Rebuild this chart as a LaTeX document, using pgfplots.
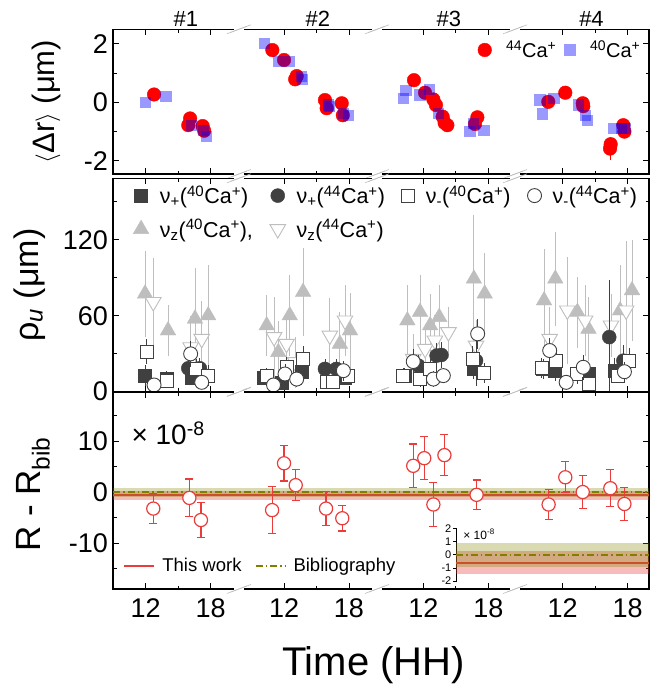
\documentclass[border=0pt]{standalone}
\usepackage{fontspec}
\setmainfont{Liberation Sans}
\usepackage{pgfplots}
\pgfplotsset{compat=1.18}

\definecolor{olv}{RGB}{128,128,0}
\definecolor{rln}{RGB}{235,60,60}
\definecolor{dk}{RGB}{64,64,64}
\definecolor{lg}{RGB}{190,190,190}

\newcommand{\fs}[1]{\fontsize{#1}{#1}\selectfont}

% axis breaks (//) drawn on top and bottom edge of every panel
\newcommand{\brk}{%
  \pgfplotsinvokeforeach{0.2348,0.4924,0.7501}{%
    \fill[white] ([xshift=-5pt,yshift=-1.6pt]rel axis cs:##1,0) rectangle ([xshift=5pt,yshift=1.6pt]rel axis cs:##1,0);
    \fill[white] ([xshift=-5pt,yshift=-1.6pt]rel axis cs:##1,1) rectangle ([xshift=5pt,yshift=1.6pt]rel axis cs:##1,1);
    \draw[lg, line width=0.6pt] ([xshift=-12pt,yshift=-4.5pt]rel axis cs:##1,0) -- ([xshift=8pt,yshift=3pt]rel axis cs:##1,0);
    \draw[lg, line width=0.6pt] ([xshift=-8pt,yshift=-3pt]rel axis cs:##1,0) -- ([xshift=12pt,yshift=4.5pt]rel axis cs:##1,0);
    \draw[lg, line width=0.6pt] ([xshift=-12pt,yshift=-4.5pt]rel axis cs:##1,1) -- ([xshift=8pt,yshift=3pt]rel axis cs:##1,1);
    \draw[lg, line width=0.6pt] ([xshift=-8pt,yshift=-3pt]rel axis cs:##1,1) -- ([xshift=12pt,yshift=4.5pt]rel axis cs:##1,1);
  }}

\pgfplotsset{
  panel/.style={
    scale only axis, width=536pt, anchor=north west,
    xmin=8.98, xmax=58.47,
    xtick={12,18,24.77,30.77,37.63,43.63,50.5,56.5},
    minor xtick={15,27.77,40.63,53.5},
    xticklabels={},
    tick align=inside,
    major tick length=6pt, minor tick length=3.5pt,
    axis line style={line width=1.1pt},
    every tick/.style={black, line width=1pt},
    tick label style={font=\fs{27}},
    /pgf/number format/assume math mode=true,
    yticklabel style={inner sep=0pt, xshift=-5pt},
    clip mode=individual,
  },
}

\begin{document}
\begin{tikzpicture}
\useasboundingbox (0,0) rectangle (659pt,-685pt);

% ---------------- top panel ----------------
\begin{axis}[panel, at={(113pt,-29.3pt)}, height=144.7pt,
  ymin=-2.45, ymax=2.5, ytick={-2,0,2}, minor ytick={-1,1},
  ylabel={$\langle$Δr$\rangle$ (μm)},
  ylabel style={font=\fs{31}, at={(axis description cs:-0.125,0.5)}, anchor=center},
  legend style={at={(0.988,0.857)}, anchor=east, draw=none, fill=none,
    font=\fs{20}, inner sep=0pt},
  legend columns=2,
  legend cell align=left,
  /tikz/every odd column/.append style={column sep=12.5pt},
  /tikz/every even column/.append style={column sep=6pt},
]
\addplot[red, only marks, mark=*, mark size=6.8pt, mark options={draw=red, fill=red}] coordinates {
  (12.77,0.27) (15.93,-0.78) (16.1,-0.55) (17.26,-0.81) (17.4,-0.97)
  (23.69,1.79) (24.77,1.45) (25.8,0.79) (25.94,0.9) (28.55,0.08) (28.71,-0.2) (30.1,-0.03) (30.2,-0.44)
  (36.77,0.76) (37.79,0.33) (38.56,0.1) (38.8,-0.09) (39.42,-0.49) (39.6,-0.7) (39.85,-0.78) (42.4,-0.74) (42.62,-0.51)
  (49.17,0.02) (50.74,0.33) (52.35,-0.03) (52.4,-0.13) (54.93,-1.43) (56.1,-0.78) (56.2,-1.0)
};
\addplot[red, only marks, mark=*, mark size=6.8pt, mark options={draw=red, fill=red}, forget plot,
  error bars/.cd, y dir=both, y explicit, error bar style={red, line width=1pt}, error mark=none] coordinates {
  (54.87,-1.58) +- (0,0.38)
};
\addplot[blue, only marks, mark=square*, mark size=5.6pt, mark options={draw opacity=0, fill=blue, fill opacity=0.4}] coordinates {
  (12.0,0.0) (13.87,0.19) (16.25,-0.78) (17.3,-0.97) (17.6,-1.18)
  (23.0,2.02) (24.24,1.39) (25.3,1.39) (26.4,0.88) (26.5,0.77) (28.86,-0.09) (29.0,-0.13) (30.25,-0.38) (30.7,-0.44)
  (35.79,0.14) (36.03,0.42) (37.33,0.25) (38.19,0.45) (39.02,-0.38) (41.95,-1.0) (42.25,-0.72) (43.24,-0.97)
  (48.4,0.08) (48.66,-0.4) (49.7,0.14) (51.94,-0.09) (52.6,-0.44) (52.78,-0.61) (55.24,-0.89) (55.9,-0.89) (56.25,-0.89)
};
\legend{\textsuperscript{44}Ca\textsuperscript{+}, \textsuperscript{40}Ca\textsuperscript{+}}
\node[font=\fs{22}, anchor=base] at ([yshift=2.6pt]axis cs:15.7,2.5) {\#1};
\node[font=\fs{22}, anchor=base] at ([yshift=2.6pt]axis cs:27.9,2.5) {\#2};
\node[font=\fs{22}, anchor=base] at ([yshift=2.6pt]axis cs:40.0,2.5) {\#3};
\node[font=\fs{22}, anchor=base] at ([yshift=2.6pt]axis cs:53.16,2.5) {\#4};
\brk
\end{axis}

% ---------------- middle panel ----------------
\begin{axis}[panel, at={(113pt,-178.3pt)}, height=213.4pt,
  ymin=0, ymax=168.5, ytick={0,60,120}, minor ytick={30,90,150},
  ylabel={ρ\textsubscript{\textit{u}} (μm)},
  ylabel style={font=\fs{34}, at={(axis description cs:-0.155,0.5)}, anchor=center},
  legend style={at={(0.0375,0.975)}, anchor=north west, draw=none, fill=none,
    font=\fs{21.5}, inner sep=0pt, row sep=10pt},
  legend columns=4,
  legend cell align=left,
  /tikz/every odd column/.append style={column sep=9pt},
  /tikz/every even column/.append style={column sep=15pt},
]
\addlegendimage{only marks, mark=square*, mark size=6.5pt, dk, mark options={fill=dk}}
\addlegendimage{only marks, mark=*, mark size=7pt, dk, mark options={fill=dk}}
\addlegendimage{only marks, mark=square*, mark size=6.5pt, dk, mark options={draw=dk, fill=white, line width=0.9pt}}
\addlegendimage{only marks, mark=*, mark size=7pt, dk, mark options={draw=dk, fill=white, line width=0.9pt}}
\addlegendimage{only marks, mark=triangle*, mark size=9pt, lg, mark options={draw=lg, fill=lg}}
\addlegendimage{only marks, mark=triangle*, mark size=9pt, lg, mark options={draw=lg, fill=white, rotate=180, line width=0.9pt}}

% nu_z(40Ca+)
\addplot[forget plot, lg, only marks, mark=triangle*, mark size=9pt, mark options={draw=lg, fill=lg},
  error bars/.cd, y dir=both, y explicit, error bar style={lg, line width=0.9pt}, error mark=none] coordinates {
  (11.94,77.4) +- (0,34) (14.06,48.3) +- (0,20) (16.55,57.6) +- (0,40) (17.77,60.2) +- (0,40)
  (23.17,52.3) +- (0,24) (24.24,31.2) +- (0,25) (25.3,60.2) +- (0,32) (26.53,78.7) +- (0,35) (29.93,37.8) +- (0,25) (30.86,48.3) +- (0,30)
  (36.16,56.2) +- (0,28) (37.33,62.9) +- (0,29) (38.26,52.3) +- (0,25) (39.1,58.9) +- (0,25) (42.3,89.2) +- (0,50) (43.3,77.4) +- (0,32)
  (48.78,72) +- (0,41) (49.82,89.2) +- (0,37) (51.86,62.9) +- (0,28) (52.88,49.6) +- (0,25) (55.8,64.1) +- (0,36) (56.9,80) +- (0,40)
};
% nu_z(44Ca+)
\addplot[forget plot, lg, only marks, mark=triangle*, mark size=9pt, mark options={draw=lg, fill=white, rotate=180, line width=0.9pt},
  error bars/.cd, y dir=both, y explicit, error bar style={lg, line width=0.9pt}, error mark=none] coordinates {
  (12.7,70.8) +- (0,35) (16.15,35.1) +- (0,25) (17.17,41.7) +- (0,30)
  (23.85,43.1) +- (0,32) (25.0,37.8) +- (0,20) (25.8,23.3) +- (0,20) (29.0,44.3) +- (0,30) (30.4,56.2) +- (0,28)
  (36.7,25.9) +- (0,20) (37.8,33.8) +- (0,20) (38.7,40.4) +- (0,20) (39.95,47) +- (0,20) (42.5,36.4) +- (0,20)
  (49.3,41.7) +- (0,25) (50.93,64.1) +- (0,42) (52.57,56.2) +- (0,28) (54.96,52.3) +- (0,25) (56.36,64.1) +- (0,55)
};
% nu_+(40Ca+)
\addplot[forget plot, only marks, mark=square*, mark size=6.5pt, dk, mark options={fill=dk},
  error bars/.cd, y dir=both, y explicit, error bar style={dk, line width=0.9pt}, error mark=none] coordinates {
  (11.94,12.7) +- (0,8) (13.94,10.6) +- (0,6) (16.25,11.4) +- (0,6)
  (22.86,11.4) +- (0,6) (24.56,7.4) +- (0,5) (26.4,15.4) +- (0,10) (30.4,11.4) +- (0,6)
  (35.93,12.7) +- (0,6) (37.95,12.7) +- (0,8) (42.25,18) +- (0,8)
  (48.7,18) +- (0,8) (49.8,16.6) +- (0,8) (52.88,14) +- (0,8) (55.3,16.6) +- (0,10)
};
% nu_+(44Ca+)
\addplot[forget plot, only marks, mark=*, mark size=7pt, dk, mark options={fill=dk},
  error bars/.cd, y dir=both, y explicit, error bar style={dk, line width=0.9pt}, error mark=none] coordinates {
  (15.93,18.5) +- (0,8) (17.0,18.5) +- (0,8)
  (28.55,18) +- (0,8) (29.6,18) +- (0,8)
  (37.17,20.6) +- (0,8) (38.86,28.5) +- (0,10) (39.3,29) +- (0,10) (42.5,24.5) +- (0,20)
  (54.8,43.1) +- (0,45) (56.1,24.5) +- (0,12)
};
% nu_-(40Ca+)
\addplot[forget plot, only marks, mark=square*, mark size=6.5pt, dk, mark options={draw=dk, fill=white, line width=0.9pt},
  error bars/.cd, y dir=both, y explicit, error bar style={dk, line width=0.9pt}, error mark=none] coordinates {
  (12.09,31.7) +- (0,10) (13.94,8.7) +- (0,6) (16.64,18) +- (0,8) (17.77,12.7) +- (0,8)
  (23.17,12.7) +- (0,6) (25.0,19.3) +- (0,8) (26.53,25.9) +- (0,10) (28.71,7.4) +- (0,5) (29.32,7.4) +- (0,5) (30.7,12.7) +- (0,6)
  (35.79,12.7) +- (0,6) (37.33,10) +- (0,6) (38.25,18) +- (0,8) (42.2,25.9) +- (0,10) (43.24,14.8) +- (0,8)
  (48.56,18.8) +- (0,8) (49.9,24.5) +- (0,10) (51.86,14) +- (0,8) (52.88,6.1) +- (0,5) (55.64,12.7) +- (0,6) (56.66,24.5) +- (0,10)
};
% nu_-(44Ca+)
\addplot[forget plot, only marks, mark=*, mark size=7pt, dk, mark options={draw=dk, fill=white, line width=0.9pt},
  error bars/.cd, y dir=both, y explicit, error bar style={dk, line width=0.9pt}, error mark=none] coordinates {
  (12.77,5.3) +- (0,5) (16.15,29.9) +- (0,10) (17.17,7.4) +- (0,5)
  (23.8,5.3) +- (0,5) (24.86,14) +- (0,8) (25.94,10) +- (0,6) (30.25,16.6) +- (0,8)
  (36.7,23.8) +- (0,10) (38.56,10) +- (0,6) (39.48,12.7) +- (0,6) (42.65,45.7) +- (0,12)
  (49.3,32.5) +- (0,10) (50.82,7.4) +- (0,6) (52.4,19.3) +- (0,10) (56.2,15.8) +- (0,8)
};
\legend{ν\textsubscript{+}(\textsuperscript{40}Ca\textsuperscript{+}),
        ν\textsubscript{+}(\textsuperscript{44}Ca\textsuperscript{+}),
        ν\textsubscript{-}(\textsuperscript{40}Ca\textsuperscript{+}),
        ν\textsubscript{-}(\textsuperscript{44}Ca\textsuperscript{+}),
        ν\textsubscript{z}(\textsuperscript{40}Ca\textsuperscript{+}){,},
        ν\textsubscript{z}(\textsuperscript{44}Ca\textsuperscript{+})}
\brk
\end{axis}

% ---------------- bottom panel ----------------
\begin{axis}[panel, at={(113pt,-392pt)}, height=197pt,
  ymin=-19, ymax=19.7, ytick={-10,0,10}, minor ytick={-15,-5,5,15},
  xticklabels={12,18,12,18,12,18,12,18},
  xticklabel style={inner sep=0pt, yshift=-9pt},
  xlabel={Time (HH)},
  xlabel style={font=\fs{40}, at={(axis description cs:0.486,0)}, anchor=base, yshift=-86pt},
  ylabel={R - R\textsubscript{bib}},
  ylabel style={font=\fs{35}, at={(axis description cs:-0.149,0.48)}, anchor=center},
  legend style={at={(0.019,0.118)}, anchor=west, draw=none, fill=none,
    font=\fs{18.5}, inner sep=0pt},
  legend columns=2,
  /tikz/every odd column/.append style={column sep=5pt},
  /tikz/every even column/.append style={column sep=11pt},
  legend image code/.code={\draw[#1] (0pt,0pt) -- (30pt,0pt);},
]
\addplot[forget plot, draw=none, fill=rln, fill opacity=0.35] coordinates {(8.98,-1.5) (58.47,-1.5) (58.47,0.26) (8.98,0.26)} -- cycle;
\addplot[rln, line width=2pt] coordinates {(8.98,-0.62) (58.47,-0.62)};
\addplot[forget plot, draw=none, fill=olv, fill opacity=0.3] coordinates {(8.98,-0.9) (58.47,-0.9) (58.47,0.9) (8.98,0.9)} -- cycle;
\addplot[olv, line width=2pt, dash pattern=on 7pt off 3pt on 1.5pt off 3pt] coordinates {(8.98,0) (58.47,0)};
\addplot[forget plot, only marks, mark=*, mark size=6.6pt, rln, mark options={fill=white, line width=1.2pt},
  error bars/.cd, y dir=both, y explicit, error bar style={rln, line width=1.2pt},
  error mark options={rotate=90, mark size=4pt, line width=1.2pt, rln}] coordinates {
  (12.7,-3.2) +- (0,3.0) (16.03,-1.1) +- (0,3.7) (17.1,-5.45) +- (0,3.5)
  (23.67,-3.5) +- (0,4.6) (24.77,5.7) +- (0,3.5) (25.85,1.4) +- (0,3.0) (28.65,-3.2) +- (0,3.4) (30.15,-5.1) +- (0,2.5)
  (36.7,5.2) +- (0,4.3) (37.72,6.7) +- (0,4.2) (38.56,-2.4) +- (0,4.3) (39.58,7.3) +- (0,4.0) (42.55,-0.5) +- (0,2.9)
  (49.2,-2.4) +- (0,2.9) (50.74,2.95) +- (0,3.05) (52.35,0.05) +- (0,3.3) (54.9,0.8) +- (0,3.6) (56.2,-2.3) +- (0,3.3)
};
\legend{This work, Bibliography}
\node[anchor=base west, font=\fs{28}] at (rel axis cs:0.028,0.731) {× 10\textsuperscript{-8}};
\brk
\end{axis}

% ---------------- inset ----------------
\begin{axis}[at={(456pt,-527.6pt)}, anchor=north west, scale only axis,
  width=193pt, height=54.8pt,
  xmin=0, xmax=1, ymin=-2.1, ymax=2.05,
  axis x line=none, axis y line*=left,
  ytick={-2,-1,0,1,2}, tick align=outside, major tick length=3pt,
  every tick/.style={black, line width=0.7pt},
  axis line style={line width=0.8pt},
  tick label style={font=\fs{11}},
  /pgf/number format/assume math mode=true,
  yticklabel style={inner sep=0pt, xshift=-1.5pt},
]
\addplot[draw=none, fill=rln, fill opacity=0.35] coordinates {(0,-1.5) (1,-1.5) (1,0.26) (0,0.26)} -- cycle;
\addplot[rln, line width=2pt] coordinates {(0,-0.62) (1,-0.62)};
\addplot[draw=none, fill=olv, fill opacity=0.3] coordinates {(0,-0.9) (1,-0.9) (1,0.9) (0,0.9)} -- cycle;
\addplot[olv, line width=2pt, dash pattern=on 7pt off 3pt on 1.5pt off 3pt] coordinates {(0,0) (1,0)};
\node[anchor=base west, font=\fs{12}] at (rel axis cs:0.02,0.79) {× 10\textsuperscript{-8}};
\end{axis}
\end{tikzpicture}
\end{document}
